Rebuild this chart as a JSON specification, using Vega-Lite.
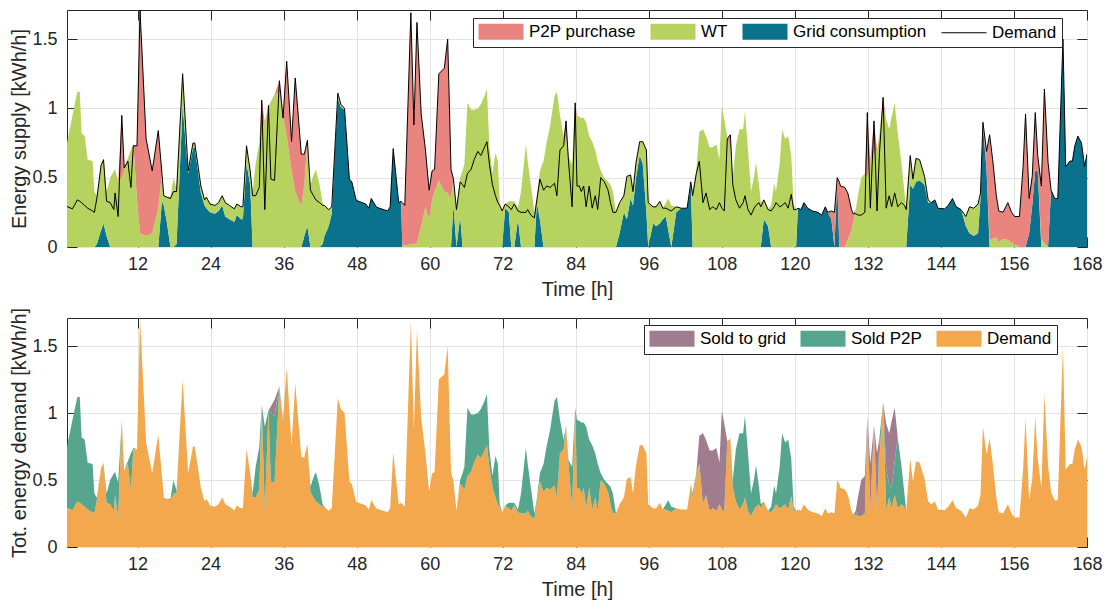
{
  "$schema": "https://vega.github.io/schema/vega-lite/v6.json",
  "background": "white",
  "padding": {"left": 9, "top": 9, "right": 19, "bottom": 5},
  "spacing": 6,
  "config": {
    "font": "Liberation Sans",
    "view": {"stroke": "#262626", "strokeWidth": 1},
    "axis": {
      "labelFont": "Liberation Sans",
      "labelFontSize": 18,
      "labelColor": "#262626",
      "titleFont": "Liberation Sans",
      "titleFontSize": 20,
      "titleFontWeight": "normal",
      "titleColor": "#262626",
      "domain": false,
      "tickColor": "#262626",
      "tickSize": -10,
      "tickWidth": 1,
      "labelPadding": 18,
      "labelFlush": false,
      "labelOverlap": false,
      "titlePadding": 6,
      "gridColor": "#e3e3e3",
      "gridWidth": 1
    },
    "axisY": {"titlePadding": 2},
    "legend": {
      "labelFont": "Liberation Sans",
      "labelFontSize": 17,
      "labelColor": "#000000",
      "orient": "none",
      "direction": "horizontal",
      "columns": 4,
      "fillColor": "white",
      "strokeColor": "#262626",
      "padding": 5,
      "labelOffset": 34,
      "columnPadding": 12,
      "symbolSize": 256,
      "symbolStrokeWidth": 1
    }
  },
  "resolve": {"scale": {"color": "independent"}, "legend": {"color": "independent"}},
  "data": {
    "values": [
      {"t":0,"demand":0.3,"grid":0,"wt":0.66,"p2p":0,"soldP2P":0.36,"soldGrid":0},
      {"t":1.3,"demand":0.275,"grid":0,"wt":0.95,"p2p":0,"soldP2P":0.675,"soldGrid":0},
      {"t":2.1,"demand":0.34,"grid":0,"wt":1.12,"p2p":0,"soldP2P":0.78,"soldGrid":0},
      {"t":2.5,"demand":0.33,"grid":0,"wt":1.12,"p2p":0,"soldP2P":0.79,"soldGrid":0},
      {"t":2.8,"demand":0.32,"grid":0,"wt":0.82,"p2p":0,"soldP2P":0.5,"soldGrid":0},
      {"t":3.3,"demand":0.3,"grid":0,"wt":0.8,"p2p":0,"soldP2P":0.5,"soldGrid":0},
      {"t":3.8,"demand":0.28,"grid":0,"wt":0.63,"p2p":0,"soldP2P":0.35,"soldGrid":0},
      {"t":4.6,"demand":0.26,"grid":0,"wt":0.62,"p2p":0,"soldP2P":0.36,"soldGrid":0},
      {"t":4.9,"demand":0.25,"grid":0,"wt":0.4,"p2p":0,"soldP2P":0.15,"soldGrid":0},
      {"t":5.3,"demand":0.35,"grid":0.02,"wt":0.35,"p2p":0,"soldP2P":0.02,"soldGrid":0},
      {"t":6.0,"demand":0.59,"grid":0.12,"wt":0.47,"p2p":0,"soldP2P":0,"soldGrid":0},
      {"t":6.4,"demand":0.63,"grid":0.17,"wt":0.46,"p2p":0,"soldP2P":0,"soldGrid":0},
      {"t":6.9,"demand":0.33,"grid":0.08,"wt":0.32,"p2p":0,"soldP2P":0.07,"soldGrid":0},
      {"t":7.5,"demand":0.32,"grid":0,"wt":0.5,"p2p":0,"soldP2P":0.18,"soldGrid":0},
      {"t":8.1,"demand":0.27,"grid":0,"wt":0.55,"p2p":0,"soldP2P":0.28,"soldGrid":0},
      {"t":8.3,"demand":0.39,"grid":0,"wt":0.56,"p2p":0,"soldP2P":0.17,"soldGrid":0},
      {"t":8.8,"demand":0.22,"grid":0,"wt":0.48,"p2p":0,"soldP2P":0.26,"soldGrid":0},
      {"t":9.4,"demand":0.95,"grid":0,"wt":0.5,"p2p":0.45,"soldP2P":0,"soldGrid":0},
      {"t":9.8,"demand":0.57,"grid":0,"wt":0.55,"p2p":0.02,"soldP2P":0,"soldGrid":0},
      {"t":10.4,"demand":0.62,"grid":0,"wt":0.64,"p2p":0,"soldP2P":0.02,"soldGrid":0},
      {"t":10.9,"demand":0.43,"grid":0,"wt":0.7,"p2p":0,"soldP2P":0.27,"soldGrid":0},
      {"t":11.3,"demand":0.73,"grid":0,"wt":0.74,"p2p":0,"soldP2P":0.01,"soldGrid":0},
      {"t":11.9,"demand":0.73,"grid":0,"wt":0.35,"p2p":0.38,"soldP2P":0,"soldGrid":0},
      {"t":12.4,"demand":1.71,"grid":0,"wt":0.1,"p2p":1.61,"soldP2P":0,"soldGrid":0},
      {"t":13.4,"demand":0.78,"grid":0,"wt":0.08,"p2p":0.7,"soldP2P":0,"soldGrid":0},
      {"t":14.4,"demand":0.55,"grid":0,"wt":0.1,"p2p":0.45,"soldP2P":0,"soldGrid":0},
      {"t":15.4,"demand":0.84,"grid":0,"wt":0.28,"p2p":0.56,"soldP2P":0,"soldGrid":0},
      {"t":16.0,"demand":0.53,"grid":0.33,"wt":0.2,"p2p":0,"soldP2P":0,"soldGrid":0},
      {"t":16.3,"demand":0.37,"grid":0.3,"wt":0.07,"p2p":0,"soldP2P":0,"soldGrid":0},
      {"t":16.8,"demand":0.36,"grid":0.18,"wt":0.18,"p2p":0,"soldP2P":0,"soldGrid":0},
      {"t":17.4,"demand":0.35,"grid":0,"wt":0.36,"p2p":0,"soldP2P":0.01,"soldGrid":0},
      {"t":17.9,"demand":0.4,"grid":0,"wt":0.5,"p2p":0,"soldP2P":0.1,"soldGrid":0},
      {"t":18.4,"demand":0.4,"grid":0.02,"wt":0.4,"p2p":0,"soldP2P":0.02,"soldGrid":0},
      {"t":19.4,"demand":1.25,"grid":1.02,"wt":0.23,"p2p":0,"soldP2P":0,"soldGrid":0},
      {"t":20.3,"demand":0.55,"grid":0.53,"wt":0.02,"p2p":0,"soldP2P":0,"soldGrid":0},
      {"t":21.1,"demand":0.75,"grid":0.71,"wt":0.04,"p2p":0,"soldP2P":0,"soldGrid":0},
      {"t":21.4,"demand":0.75,"grid":0.72,"wt":0.03,"p2p":0,"soldP2P":0,"soldGrid":0},
      {"t":22.4,"demand":0.44,"grid":0.39,"wt":0.05,"p2p":0,"soldP2P":0,"soldGrid":0},
      {"t":23.0,"demand":0.34,"grid":0.3,"wt":0.04,"p2p":0,"soldP2P":0,"soldGrid":0},
      {"t":23.3,"demand":0.36,"grid":0.28,"wt":0.08,"p2p":0,"soldP2P":0,"soldGrid":0},
      {"t":23.9,"demand":0.31,"grid":0.25,"wt":0.06,"p2p":0,"soldP2P":0,"soldGrid":0},
      {"t":24.7,"demand":0.3,"grid":0.24,"wt":0.06,"p2p":0,"soldP2P":0,"soldGrid":0},
      {"t":25.3,"demand":0.32,"grid":0.26,"wt":0.06,"p2p":0,"soldP2P":0,"soldGrid":0},
      {"t":25.9,"demand":0.37,"grid":0.3,"wt":0.07,"p2p":0,"soldP2P":0,"soldGrid":0},
      {"t":26.4,"demand":0.32,"grid":0.22,"wt":0.1,"p2p":0,"soldP2P":0,"soldGrid":0},
      {"t":27.1,"demand":0.3,"grid":0.2,"wt":0.1,"p2p":0,"soldP2P":0,"soldGrid":0},
      {"t":27.9,"demand":0.275,"grid":0.18,"wt":0.095,"p2p":0,"soldP2P":0,"soldGrid":0},
      {"t":28.3,"demand":0.31,"grid":0.23,"wt":0.08,"p2p":0,"soldP2P":0,"soldGrid":0},
      {"t":29.0,"demand":0.29,"grid":0.2,"wt":0.09,"p2p":0,"soldP2P":0,"soldGrid":0},
      {"t":29.3,"demand":0.29,"grid":0.2,"wt":0.09,"p2p":0,"soldP2P":0,"soldGrid":0},
      {"t":29.9,"demand":0.73,"grid":0.6,"wt":0.13,"p2p":0,"soldP2P":0,"soldGrid":0},
      {"t":30.5,"demand":0.55,"grid":0.45,"wt":0.1,"p2p":0,"soldP2P":0,"soldGrid":0},
      {"t":30.9,"demand":0.37,"grid":0,"wt":0.4,"p2p":0,"soldP2P":0.03,"soldGrid":0},
      {"t":31.4,"demand":0.37,"grid":0,"wt":0.6,"p2p":0,"soldP2P":0.23,"soldGrid":0},
      {"t":32.0,"demand":0.43,"grid":0,"wt":0.75,"p2p":0,"soldP2P":0.32,"soldGrid":0},
      {"t":32.4,"demand":1.06,"grid":0,"wt":0.85,"p2p":0.21,"soldP2P":0,"soldGrid":0},
      {"t":32.9,"demand":0.27,"grid":0,"wt":0.9,"p2p":0,"soldP2P":0.63,"soldGrid":0},
      {"t":33.5,"demand":1.02,"grid":0,"wt":1.0,"p2p":0.02,"soldP2P":0,"soldGrid":0},
      {"t":33.9,"demand":0.49,"grid":0,"wt":1.05,"p2p":0,"soldP2P":0.51,"soldGrid":0.05},
      {"t":34.5,"demand":0.48,"grid":0,"wt":1.1,"p2p":0,"soldP2P":0.5,"soldGrid":0.12},
      {"t":35.3,"demand":1.2,"grid":0,"wt":1.12,"p2p":0.08,"soldP2P":0,"soldGrid":0},
      {"t":35.9,"demand":0.93,"grid":0,"wt":0.95,"p2p":0,"soldP2P":0.02,"soldGrid":0},
      {"t":36.5,"demand":1.34,"grid":0,"wt":0.8,"p2p":0.54,"soldP2P":0,"soldGrid":0},
      {"t":37.3,"demand":0.76,"grid":0,"wt":0.55,"p2p":0.21,"soldP2P":0,"soldGrid":0},
      {"t":37.9,"demand":1.22,"grid":0,"wt":0.4,"p2p":0.82,"soldP2P":0,"soldGrid":0},
      {"t":38.9,"demand":0.67,"grid":0,"wt":0.29,"p2p":0.38,"soldP2P":0,"soldGrid":0},
      {"t":39.4,"demand":0.67,"grid":0.08,"wt":0.37,"p2p":0.22,"soldP2P":0,"soldGrid":0},
      {"t":39.9,"demand":0.77,"grid":0.15,"wt":0.62,"p2p":0,"soldP2P":0,"soldGrid":0},
      {"t":40.4,"demand":0.41,"grid":0,"wt":0.45,"p2p":0,"soldP2P":0.04,"soldGrid":0},
      {"t":40.9,"demand":0.37,"grid":0,"wt":0.52,"p2p":0,"soldP2P":0.15,"soldGrid":0},
      {"t":41.3,"demand":0.34,"grid":0,"wt":0.56,"p2p":0,"soldP2P":0.22,"soldGrid":0},
      {"t":41.9,"demand":0.32,"grid":0,"wt":0.45,"p2p":0,"soldP2P":0.13,"soldGrid":0},
      {"t":42.4,"demand":0.3,"grid":0.02,"wt":0.3,"p2p":0,"soldP2P":0.02,"soldGrid":0},
      {"t":42.7,"demand":0.3,"grid":0.08,"wt":0.22,"p2p":0,"soldP2P":0,"soldGrid":0},
      {"t":43.4,"demand":0.27,"grid":0.15,"wt":0.12,"p2p":0,"soldP2P":0,"soldGrid":0},
      {"t":43.9,"demand":0.29,"grid":0.24,"wt":0.05,"p2p":0,"soldP2P":0,"soldGrid":0},
      {"t":44.5,"demand":0.78,"grid":0.76,"wt":0.02,"p2p":0,"soldP2P":0,"soldGrid":0},
      {"t":44.9,"demand":1.11,"grid":1.07,"wt":0.04,"p2p":0,"soldP2P":0,"soldGrid":0},
      {"t":45.4,"demand":1.03,"grid":1.01,"wt":0.02,"p2p":0,"soldP2P":0,"soldGrid":0},
      {"t":46.0,"demand":1.0,"grid":0.99,"wt":0.01,"p2p":0,"soldP2P":0,"soldGrid":0},
      {"t":46.8,"demand":0.49,"grid":0.49,"wt":0,"p2p":0,"soldP2P":0,"soldGrid":0},
      {"t":47.2,"demand":0.47,"grid":0.47,"wt":0,"p2p":0,"soldP2P":0,"soldGrid":0},
      {"t":47.9,"demand":0.34,"grid":0.34,"wt":0,"p2p":0,"soldP2P":0,"soldGrid":0},
      {"t":48.3,"demand":0.33,"grid":0.33,"wt":0,"p2p":0,"soldP2P":0,"soldGrid":0},
      {"t":49.5,"demand":0.31,"grid":0.31,"wt":0,"p2p":0,"soldP2P":0,"soldGrid":0},
      {"t":50.0,"demand":0.28,"grid":0.28,"wt":0,"p2p":0,"soldP2P":0,"soldGrid":0},
      {"t":50.4,"demand":0.35,"grid":0.35,"wt":0,"p2p":0,"soldP2P":0,"soldGrid":0},
      {"t":51.2,"demand":0.29,"grid":0.29,"wt":0,"p2p":0,"soldP2P":0,"soldGrid":0},
      {"t":51.7,"demand":0.28,"grid":0.28,"wt":0,"p2p":0,"soldP2P":0,"soldGrid":0},
      {"t":53.1,"demand":0.26,"grid":0.26,"wt":0,"p2p":0,"soldP2P":0,"soldGrid":0},
      {"t":53.5,"demand":0.29,"grid":0.29,"wt":0,"p2p":0,"soldP2P":0,"soldGrid":0},
      {"t":54.0,"demand":0.71,"grid":0.71,"wt":0,"p2p":0,"soldP2P":0,"soldGrid":0},
      {"t":54.9,"demand":0.32,"grid":0.32,"wt":0,"p2p":0,"soldP2P":0,"soldGrid":0},
      {"t":55.3,"demand":0.33,"grid":0.33,"wt":0,"p2p":0,"soldP2P":0,"soldGrid":0},
      {"t":55.5,"demand":0.32,"grid":0,"wt":0.01,"p2p":0.31,"soldP2P":0,"soldGrid":0},
      {"t":55.9,"demand":0.3,"grid":0,"wt":0.01,"p2p":0.29,"soldP2P":0,"soldGrid":0},
      {"t":56.9,"demand":1.69,"grid":0,"wt":0.02,"p2p":1.67,"soldP2P":0,"soldGrid":0},
      {"t":57.4,"demand":0.88,"grid":0,"wt":0.02,"p2p":0.86,"soldP2P":0,"soldGrid":0},
      {"t":57.9,"demand":1.62,"grid":0,"wt":0.03,"p2p":1.59,"soldP2P":0,"soldGrid":0},
      {"t":58.6,"demand":0.96,"grid":0,"wt":0.15,"p2p":0.81,"soldP2P":0,"soldGrid":0},
      {"t":59.3,"demand":0.7,"grid":0,"wt":0.29,"p2p":0.41,"soldP2P":0,"soldGrid":0},
      {"t":59.9,"demand":0.41,"grid":0,"wt":0.2,"p2p":0.21,"soldP2P":0,"soldGrid":0},
      {"t":60.4,"demand":0.55,"grid":0,"wt":0.34,"p2p":0.21,"soldP2P":0,"soldGrid":0},
      {"t":60.8,"demand":0.56,"grid":0,"wt":0.4,"p2p":0.16,"soldP2P":0,"soldGrid":0},
      {"t":61.5,"demand":1.25,"grid":0,"wt":0.48,"p2p":0.77,"soldP2P":0,"soldGrid":0},
      {"t":62.4,"demand":1.29,"grid":0,"wt":0.4,"p2p":0.89,"soldP2P":0,"soldGrid":0},
      {"t":62.95,"demand":1.5,"grid":0,"wt":0.39,"p2p":1.11,"soldP2P":0,"soldGrid":0},
      {"t":63.5,"demand":0.56,"grid":0,"wt":0.35,"p2p":0.21,"soldP2P":0,"soldGrid":0},
      {"t":63.9,"demand":0.49,"grid":0.3,"wt":0.19,"p2p":0,"soldP2P":0,"soldGrid":0},
      {"t":64.4,"demand":0.27,"grid":0,"wt":0.27,"p2p":0,"soldP2P":0,"soldGrid":0},
      {"t":65.0,"demand":0.47,"grid":0.22,"wt":0.28,"p2p":0,"soldP2P":0.03,"soldGrid":0},
      {"t":65.4,"demand":0.45,"grid":0,"wt":0.55,"p2p":0,"soldP2P":0.1,"soldGrid":0},
      {"t":65.7,"demand":0.43,"grid":0,"wt":0.6,"p2p":0,"soldP2P":0.17,"soldGrid":0},
      {"t":66.2,"demand":0.53,"grid":0,"wt":1.04,"p2p":0,"soldP2P":0.51,"soldGrid":0},
      {"t":66.8,"demand":0.56,"grid":0,"wt":0.99,"p2p":0,"soldP2P":0.43,"soldGrid":0},
      {"t":67.3,"demand":0.63,"grid":0,"wt":0.99,"p2p":0,"soldP2P":0.36,"soldGrid":0},
      {"t":67.9,"demand":0.69,"grid":0,"wt":1.0,"p2p":0,"soldP2P":0.31,"soldGrid":0},
      {"t":68.4,"demand":0.66,"grid":0,"wt":1.03,"p2p":0,"soldP2P":0.37,"soldGrid":0},
      {"t":69.0,"demand":0.72,"grid":0,"wt":1.09,"p2p":0,"soldP2P":0.37,"soldGrid":0},
      {"t":69.4,"demand":0.76,"grid":0,"wt":1.14,"p2p":0,"soldP2P":0.38,"soldGrid":0},
      {"t":69.8,"demand":0.6,"grid":0,"wt":0.73,"p2p":0,"soldP2P":0.13,"soldGrid":0},
      {"t":70.3,"demand":0.45,"grid":0,"wt":0.53,"p2p":0,"soldP2P":0.08,"soldGrid":0},
      {"t":70.8,"demand":0.37,"grid":0,"wt":0.68,"p2p":0,"soldP2P":0.31,"soldGrid":0},
      {"t":71.2,"demand":0.32,"grid":0,"wt":0.62,"p2p":0,"soldP2P":0.3,"soldGrid":0},
      {"t":71.5,"demand":0.3,"grid":0,"wt":0.32,"p2p":0,"soldP2P":0.02,"soldGrid":0},
      {"t":71.9,"demand":0.26,"grid":0,"wt":0.26,"p2p":0,"soldP2P":0,"soldGrid":0},
      {"t":72.4,"demand":0.31,"grid":0.28,"wt":0.03,"p2p":0,"soldP2P":0,"soldGrid":0},
      {"t":73.0,"demand":0.29,"grid":0.25,"wt":0.08,"p2p":0,"soldP2P":0.04,"soldGrid":0},
      {"t":73.4,"demand":0.27,"grid":0,"wt":0.33,"p2p":0,"soldP2P":0.06,"soldGrid":0},
      {"t":73.9,"demand":0.31,"grid":0,"wt":0.33,"p2p":0,"soldP2P":0.02,"soldGrid":0},
      {"t":74.5,"demand":0.26,"grid":0.2,"wt":0.08,"p2p":0,"soldP2P":0.02,"soldGrid":0},
      {"t":75.0,"demand":0.25,"grid":0,"wt":0.4,"p2p":0,"soldP2P":0.15,"soldGrid":0},
      {"t":75.8,"demand":0.25,"grid":0,"wt":0.74,"p2p":0,"soldP2P":0.49,"soldGrid":0},
      {"t":76.1,"demand":0.27,"grid":0,"wt":0.62,"p2p":0,"soldP2P":0.35,"soldGrid":0},
      {"t":76.6,"demand":0.23,"grid":0,"wt":0.45,"p2p":0,"soldP2P":0.22,"soldGrid":0},
      {"t":77.2,"demand":0.21,"grid":0,"wt":0.25,"p2p":0,"soldP2P":0.04,"soldGrid":0},
      {"t":77.6,"demand":0.34,"grid":0.32,"wt":0.04,"p2p":0,"soldP2P":0.02,"soldGrid":0},
      {"t":78.1,"demand":0.49,"grid":0.2,"wt":0.35,"p2p":0,"soldP2P":0.06,"soldGrid":0},
      {"t":78.7,"demand":0.41,"grid":0,"wt":0.62,"p2p":0,"soldP2P":0.21,"soldGrid":0},
      {"t":79.2,"demand":0.44,"grid":0,"wt":0.75,"p2p":0,"soldP2P":0.31,"soldGrid":0},
      {"t":79.8,"demand":0.43,"grid":0,"wt":0.88,"p2p":0,"soldP2P":0.45,"soldGrid":0},
      {"t":80.5,"demand":0.46,"grid":0,"wt":1.09,"p2p":0,"soldP2P":0.63,"soldGrid":0},
      {"t":80.9,"demand":0.37,"grid":0,"wt":1.12,"p2p":0,"soldP2P":0.75,"soldGrid":0},
      {"t":81.4,"demand":0.7,"grid":0,"wt":0.95,"p2p":0,"soldP2P":0.25,"soldGrid":0},
      {"t":82.0,"demand":0.73,"grid":0,"wt":0.8,"p2p":0,"soldP2P":0.07,"soldGrid":0},
      {"t":82.4,"demand":0.91,"grid":0,"wt":0.78,"p2p":0.13,"soldP2P":0,"soldGrid":0},
      {"t":82.8,"demand":0.62,"grid":0,"wt":0.65,"p2p":0,"soldP2P":0.03,"soldGrid":0},
      {"t":83.4,"demand":0.29,"grid":0,"wt":0.6,"p2p":0,"soldP2P":0.31,"soldGrid":0},
      {"t":83.9,"demand":1.04,"grid":0,"wt":0.95,"p2p":0.09,"soldP2P":0,"soldGrid":0},
      {"t":84.2,"demand":0.44,"grid":0,"wt":0.95,"p2p":0,"soldP2P":0.51,"soldGrid":0},
      {"t":84.6,"demand":0.44,"grid":0,"wt":0.94,"p2p":0,"soldP2P":0.5,"soldGrid":0},
      {"t":84.9,"demand":0.4,"grid":0,"wt":0.93,"p2p":0,"soldP2P":0.53,"soldGrid":0},
      {"t":85.3,"demand":0.44,"grid":0,"wt":0.93,"p2p":0,"soldP2P":0.49,"soldGrid":0},
      {"t":85.7,"demand":0.29,"grid":0,"wt":0.9,"p2p":0,"soldP2P":0.61,"soldGrid":0},
      {"t":86.2,"demand":0.44,"grid":0,"wt":0.8,"p2p":0,"soldP2P":0.36,"soldGrid":0},
      {"t":86.7,"demand":0.28,"grid":0,"wt":0.76,"p2p":0,"soldP2P":0.48,"soldGrid":0},
      {"t":87.2,"demand":0.37,"grid":0,"wt":0.7,"p2p":0,"soldP2P":0.33,"soldGrid":0},
      {"t":87.6,"demand":0.27,"grid":0,"wt":0.62,"p2p":0,"soldP2P":0.35,"soldGrid":0},
      {"t":88.1,"demand":0.5,"grid":0,"wt":0.55,"p2p":0,"soldP2P":0.05,"soldGrid":0},
      {"t":88.7,"demand":0.47,"grid":0,"wt":0.5,"p2p":0,"soldP2P":0.03,"soldGrid":0},
      {"t":89.3,"demand":0.41,"grid":0,"wt":0.47,"p2p":0,"soldP2P":0.06,"soldGrid":0},
      {"t":89.7,"demand":0.32,"grid":0,"wt":0.45,"p2p":0,"soldP2P":0.13,"soldGrid":0},
      {"t":90.1,"demand":0.25,"grid":0,"wt":0.4,"p2p":0,"soldP2P":0.15,"soldGrid":0},
      {"t":90.6,"demand":0.25,"grid":0,"wt":0.25,"p2p":0,"soldP2P":0,"soldGrid":0},
      {"t":91.2,"demand":0.32,"grid":0.1,"wt":0.22,"p2p":0,"soldP2P":0,"soldGrid":0},
      {"t":91.9,"demand":0.37,"grid":0.25,"wt":0.12,"p2p":0,"soldP2P":0,"soldGrid":0},
      {"t":92.4,"demand":0.51,"grid":0.2,"wt":0.31,"p2p":0,"soldP2P":0,"soldGrid":0},
      {"t":93.0,"demand":0.52,"grid":0.35,"wt":0.17,"p2p":0,"soldP2P":0,"soldGrid":0},
      {"t":93.4,"demand":0.4,"grid":0.3,"wt":0.1,"p2p":0,"soldP2P":0,"soldGrid":0},
      {"t":93.9,"demand":0.61,"grid":0.5,"wt":0.11,"p2p":0,"soldP2P":0,"soldGrid":0},
      {"t":94.5,"demand":0.76,"grid":0.66,"wt":0.1,"p2p":0,"soldP2P":0,"soldGrid":0},
      {"t":95.0,"demand":0.76,"grid":0.6,"wt":0.16,"p2p":0,"soldP2P":0,"soldGrid":0},
      {"t":95.6,"demand":0.7,"grid":0.25,"wt":0.45,"p2p":0,"soldP2P":0,"soldGrid":0},
      {"t":95.9,"demand":0.32,"grid":0,"wt":0.32,"p2p":0,"soldP2P":0,"soldGrid":0},
      {"t":96.7,"demand":0.29,"grid":0.17,"wt":0.12,"p2p":0,"soldP2P":0,"soldGrid":0},
      {"t":97.2,"demand":0.29,"grid":0.15,"wt":0.14,"p2p":0,"soldP2P":0,"soldGrid":0},
      {"t":97.8,"demand":0.33,"grid":0.17,"wt":0.16,"p2p":0,"soldP2P":0,"soldGrid":0},
      {"t":98.3,"demand":0.28,"grid":0.2,"wt":0.08,"p2p":0,"soldP2P":0,"soldGrid":0},
      {"t":98.8,"demand":0.28,"grid":0.22,"wt":0.1,"p2p":0,"soldP2P":0.04,"soldGrid":0},
      {"t":99.2,"demand":0.27,"grid":0.12,"wt":0.23,"p2p":0,"soldP2P":0.08,"soldGrid":0},
      {"t":99.7,"demand":0.26,"grid":0,"wt":0.3,"p2p":0,"soldP2P":0.04,"soldGrid":0},
      {"t":100.5,"demand":0.29,"grid":0.25,"wt":0.04,"p2p":0,"soldP2P":0,"soldGrid":0},
      {"t":101.3,"demand":0.28,"grid":0.28,"wt":0,"p2p":0,"soldP2P":0,"soldGrid":0},
      {"t":102.3,"demand":0.28,"grid":0.28,"wt":0,"p2p":0,"soldP2P":0,"soldGrid":0},
      {"t":102.9,"demand":0.47,"grid":0.45,"wt":0,"p2p":0.02,"soldP2P":0,"soldGrid":0},
      {"t":103.2,"demand":0.37,"grid":0,"wt":0.4,"p2p":0,"soldP2P":0.03,"soldGrid":0},
      {"t":103.8,"demand":0.53,"grid":0,"wt":0.55,"p2p":0,"soldP2P":0.02,"soldGrid":0},
      {"t":104.3,"demand":0.62,"grid":0,"wt":0.83,"p2p":0,"soldP2P":0,"soldGrid":0.21},
      {"t":104.9,"demand":0.32,"grid":0,"wt":0.85,"p2p":0,"soldP2P":0,"soldGrid":0.53},
      {"t":105.4,"demand":0.39,"grid":0,"wt":0.8,"p2p":0,"soldP2P":0,"soldGrid":0.41},
      {"t":106.0,"demand":0.27,"grid":0,"wt":0.72,"p2p":0,"soldP2P":0,"soldGrid":0.45},
      {"t":106.5,"demand":0.29,"grid":0,"wt":0.72,"p2p":0,"soldP2P":0,"soldGrid":0.43},
      {"t":107.1,"demand":0.27,"grid":0,"wt":0.74,"p2p":0,"soldP2P":0,"soldGrid":0.47},
      {"t":107.6,"demand":0.32,"grid":0,"wt":0.63,"p2p":0,"soldP2P":0,"soldGrid":0.31},
      {"t":108.0,"demand":0.28,"grid":0,"wt":1.02,"p2p":0,"soldP2P":0,"soldGrid":0.74},
      {"t":108.4,"demand":0.26,"grid":0,"wt":0.92,"p2p":0,"soldP2P":0,"soldGrid":0.66},
      {"t":108.9,"demand":0.78,"grid":0,"wt":0.79,"p2p":0,"soldP2P":0.01,"soldGrid":0},
      {"t":109.4,"demand":0.81,"grid":0,"wt":0.7,"p2p":0.11,"soldP2P":0,"soldGrid":0},
      {"t":109.8,"demand":0.45,"grid":0,"wt":0.5,"p2p":0,"soldP2P":0.05,"soldGrid":0},
      {"t":110.3,"demand":0.34,"grid":0,"wt":0.73,"p2p":0,"soldP2P":0.39,"soldGrid":0},
      {"t":110.9,"demand":0.28,"grid":0,"wt":0.85,"p2p":0,"soldP2P":0.57,"soldGrid":0},
      {"t":111.5,"demand":0.32,"grid":0,"wt":0.85,"p2p":0,"soldP2P":0.53,"soldGrid":0},
      {"t":111.8,"demand":0.37,"grid":0,"wt":0.98,"p2p":0,"soldP2P":0.61,"soldGrid":0},
      {"t":112.3,"demand":0.27,"grid":0,"wt":0.7,"p2p":0,"soldP2P":0.43,"soldGrid":0},
      {"t":112.8,"demand":0.23,"grid":0,"wt":0.4,"p2p":0,"soldP2P":0.17,"soldGrid":0},
      {"t":113.3,"demand":0.28,"grid":0,"wt":0.51,"p2p":0,"soldP2P":0.23,"soldGrid":0},
      {"t":113.6,"demand":0.3,"grid":0,"wt":0.61,"p2p":0,"soldP2P":0.31,"soldGrid":0},
      {"t":114.1,"demand":0.32,"grid":0,"wt":0.45,"p2p":0,"soldP2P":0.13,"soldGrid":0},
      {"t":114.4,"demand":0.29,"grid":0,"wt":0.32,"p2p":0,"soldP2P":0.03,"soldGrid":0},
      {"t":114.9,"demand":0.34,"grid":0.2,"wt":0.14,"p2p":0,"soldP2P":0,"soldGrid":0},
      {"t":115.6,"demand":0.27,"grid":0.15,"wt":0.12,"p2p":0,"soldP2P":0,"soldGrid":0},
      {"t":116.1,"demand":0.26,"grid":0,"wt":0.3,"p2p":0,"soldP2P":0.04,"soldGrid":0},
      {"t":116.6,"demand":0.29,"grid":0,"wt":0.46,"p2p":0,"soldP2P":0.17,"soldGrid":0},
      {"t":116.9,"demand":0.32,"grid":0,"wt":0.4,"p2p":0,"soldP2P":0.08,"soldGrid":0},
      {"t":117.5,"demand":0.29,"grid":0,"wt":0.6,"p2p":0,"soldP2P":0.31,"soldGrid":0},
      {"t":117.9,"demand":0.3,"grid":0,"wt":0.85,"p2p":0,"soldP2P":0.55,"soldGrid":0},
      {"t":118.4,"demand":0.32,"grid":0,"wt":0.78,"p2p":0,"soldP2P":0.46,"soldGrid":0},
      {"t":118.9,"demand":0.28,"grid":0,"wt":0.8,"p2p":0,"soldP2P":0.52,"soldGrid":0},
      {"t":119.4,"demand":0.38,"grid":0,"wt":0.66,"p2p":0,"soldP2P":0.28,"soldGrid":0},
      {"t":119.8,"demand":0.27,"grid":0,"wt":0.3,"p2p":0,"soldP2P":0.03,"soldGrid":0},
      {"t":120.2,"demand":0.27,"grid":0,"wt":0.27,"p2p":0,"soldP2P":0,"soldGrid":0},
      {"t":120.5,"demand":0.28,"grid":0.28,"wt":0,"p2p":0,"soldP2P":0,"soldGrid":0},
      {"t":121.0,"demand":0.27,"grid":0.27,"wt":0,"p2p":0,"soldP2P":0,"soldGrid":0},
      {"t":121.5,"demand":0.32,"grid":0.32,"wt":0,"p2p":0,"soldP2P":0,"soldGrid":0},
      {"t":122.1,"demand":0.28,"grid":0.28,"wt":0,"p2p":0,"soldP2P":0,"soldGrid":0},
      {"t":122.9,"demand":0.26,"grid":0.26,"wt":0,"p2p":0,"soldP2P":0,"soldGrid":0},
      {"t":123.8,"demand":0.25,"grid":0.25,"wt":0,"p2p":0,"soldP2P":0,"soldGrid":0},
      {"t":124.4,"demand":0.23,"grid":0.23,"wt":0,"p2p":0,"soldP2P":0,"soldGrid":0},
      {"t":125.0,"demand":0.29,"grid":0.29,"wt":0,"p2p":0,"soldP2P":0,"soldGrid":0},
      {"t":125.4,"demand":0.25,"grid":0.25,"wt":0,"p2p":0,"soldP2P":0,"soldGrid":0},
      {"t":126.0,"demand":0.26,"grid":0.2,"wt":0,"p2p":0.06,"soldP2P":0,"soldGrid":0},
      {"t":126.5,"demand":0.25,"grid":0,"wt":0,"p2p":0.25,"soldP2P":0,"soldGrid":0},
      {"t":126.96,"demand":0.5,"grid":0.48,"wt":0,"p2p":0.02,"soldP2P":0,"soldGrid":0},
      {"t":127.3,"demand":0.47,"grid":0,"wt":0,"p2p":0.47,"soldP2P":0,"soldGrid":0},
      {"t":127.5,"demand":0.44,"grid":0,"wt":0,"p2p":0.44,"soldP2P":0,"soldGrid":0},
      {"t":128.2,"demand":0.43,"grid":0,"wt":0,"p2p":0.43,"soldP2P":0,"soldGrid":0},
      {"t":128.7,"demand":0.39,"grid":0,"wt":0.05,"p2p":0.34,"soldP2P":0,"soldGrid":0},
      {"t":129.3,"demand":0.27,"grid":0,"wt":0.12,"p2p":0.15,"soldP2P":0,"soldGrid":0},
      {"t":129.6,"demand":0.24,"grid":0,"wt":0.18,"p2p":0.06,"soldP2P":0,"soldGrid":0},
      {"t":130.0,"demand":0.24,"grid":0,"wt":0.27,"p2p":0,"soldP2P":0.03,"soldGrid":0},
      {"t":130.4,"demand":0.23,"grid":0,"wt":0.38,"p2p":0,"soldP2P":0,"soldGrid":0.15},
      {"t":130.9,"demand":0.23,"grid":0,"wt":0.5,"p2p":0,"soldP2P":0,"soldGrid":0.27},
      {"t":131.5,"demand":0.25,"grid":0,"wt":0.53,"p2p":0,"soldP2P":0,"soldGrid":0.28},
      {"t":131.9,"demand":0.97,"grid":0,"wt":0.5,"p2p":0.47,"soldP2P":0,"soldGrid":0},
      {"t":132.4,"demand":0.28,"grid":0,"wt":0.62,"p2p":0,"soldP2P":0,"soldGrid":0.34},
      {"t":133.0,"demand":0.91,"grid":0,"wt":0.68,"p2p":0.23,"soldP2P":0,"soldGrid":0},
      {"t":133.5,"demand":0.26,"grid":0,"wt":0.7,"p2p":0,"soldP2P":0,"soldGrid":0.44},
      {"t":133.9,"demand":0.68,"grid":0,"wt":0.82,"p2p":0,"soldP2P":0.14,"soldGrid":0},
      {"t":134.5,"demand":1.08,"grid":0,"wt":1.02,"p2p":0.06,"soldP2P":0,"soldGrid":0},
      {"t":135.0,"demand":0.28,"grid":0,"wt":0.92,"p2p":0,"soldP2P":0.3,"soldGrid":0.34},
      {"t":135.5,"demand":0.37,"grid":0,"wt":0.85,"p2p":0,"soldP2P":0.1,"soldGrid":0.38},
      {"t":135.9,"demand":0.29,"grid":0,"wt":0.94,"p2p":0,"soldP2P":0.15,"soldGrid":0.5},
      {"t":136.4,"demand":0.39,"grid":0,"wt":1.04,"p2p":0,"soldP2P":0.25,"soldGrid":0.4},
      {"t":136.9,"demand":0.29,"grid":0,"wt":0.82,"p2p":0,"soldP2P":0.53,"soldGrid":0},
      {"t":137.5,"demand":0.32,"grid":0,"wt":0.61,"p2p":0,"soldP2P":0.29,"soldGrid":0},
      {"t":138.0,"demand":0.3,"grid":0,"wt":0.4,"p2p":0,"soldP2P":0.1,"soldGrid":0},
      {"t":138.3,"demand":0.27,"grid":0,"wt":0.27,"p2p":0,"soldP2P":0,"soldGrid":0},
      {"t":138.95,"demand":0.66,"grid":0.45,"wt":0.21,"p2p":0,"soldP2P":0,"soldGrid":0},
      {"t":139.4,"demand":0.49,"grid":0.42,"wt":0.07,"p2p":0,"soldP2P":0,"soldGrid":0},
      {"t":139.9,"demand":0.64,"grid":0.47,"wt":0.17,"p2p":0,"soldP2P":0,"soldGrid":0},
      {"t":140.5,"demand":0.63,"grid":0.48,"wt":0.15,"p2p":0,"soldP2P":0,"soldGrid":0},
      {"t":141.3,"demand":0.51,"grid":0.45,"wt":0.06,"p2p":0,"soldP2P":0,"soldGrid":0},
      {"t":141.9,"demand":0.34,"grid":0.32,"wt":0.02,"p2p":0,"soldP2P":0,"soldGrid":0},
      {"t":142.4,"demand":0.32,"grid":0.32,"wt":0,"p2p":0,"soldP2P":0,"soldGrid":0},
      {"t":143.0,"demand":0.34,"grid":0.34,"wt":0,"p2p":0,"soldP2P":0,"soldGrid":0},
      {"t":143.5,"demand":0.28,"grid":0.28,"wt":0,"p2p":0,"soldP2P":0,"soldGrid":0},
      {"t":144.6,"demand":0.275,"grid":0.275,"wt":0,"p2p":0,"soldP2P":0,"soldGrid":0},
      {"t":145.2,"demand":0.3,"grid":0.3,"wt":0,"p2p":0,"soldP2P":0,"soldGrid":0},
      {"t":145.9,"demand":0.35,"grid":0.35,"wt":0,"p2p":0,"soldP2P":0,"soldGrid":0},
      {"t":146.5,"demand":0.29,"grid":0.29,"wt":0,"p2p":0,"soldP2P":0,"soldGrid":0},
      {"t":147.3,"demand":0.27,"grid":0.27,"wt":0,"p2p":0,"soldP2P":0,"soldGrid":0},
      {"t":148.1,"demand":0.22,"grid":0.15,"wt":0.07,"p2p":0,"soldP2P":0,"soldGrid":0},
      {"t":148.7,"demand":0.29,"grid":0.1,"wt":0.19,"p2p":0,"soldP2P":0,"soldGrid":0},
      {"t":149.4,"demand":0.28,"grid":0.08,"wt":0.2,"p2p":0,"soldP2P":0,"soldGrid":0},
      {"t":150.1,"demand":0.31,"grid":0.1,"wt":0.21,"p2p":0,"soldP2P":0,"soldGrid":0},
      {"t":150.5,"demand":0.39,"grid":0.35,"wt":0.04,"p2p":0,"soldP2P":0,"soldGrid":0},
      {"t":150.9,"demand":0.9,"grid":0.88,"wt":0.02,"p2p":0,"soldP2P":0,"soldGrid":0},
      {"t":151.5,"demand":0.69,"grid":0.55,"wt":0,"p2p":0.14,"soldP2P":0,"soldGrid":0},
      {"t":152.0,"demand":0.81,"grid":0,"wt":0.05,"p2p":0.76,"soldP2P":0,"soldGrid":0},
      {"t":152.5,"demand":0.63,"grid":0,"wt":0.06,"p2p":0.57,"soldP2P":0,"soldGrid":0},
      {"t":153.1,"demand":0.37,"grid":0,"wt":0.07,"p2p":0.3,"soldP2P":0,"soldGrid":0},
      {"t":153.5,"demand":0.26,"grid":0,"wt":0.03,"p2p":0.23,"soldP2P":0,"soldGrid":0},
      {"t":154.2,"demand":0.25,"grid":0,"wt":0.06,"p2p":0.19,"soldP2P":0,"soldGrid":0},
      {"t":155.0,"demand":0.32,"grid":0,"wt":0.05,"p2p":0.27,"soldP2P":0,"soldGrid":0},
      {"t":155.6,"demand":0.25,"grid":0,"wt":0.03,"p2p":0.22,"soldP2P":0,"soldGrid":0},
      {"t":156.1,"demand":0.22,"grid":0,"wt":0.02,"p2p":0.2,"soldP2P":0,"soldGrid":0},
      {"t":156.9,"demand":0.22,"grid":0,"wt":0,"p2p":0.22,"soldP2P":0,"soldGrid":0},
      {"t":157.5,"demand":0.58,"grid":0,"wt":0,"p2p":0.58,"soldP2P":0,"soldGrid":0},
      {"t":157.9,"demand":0.96,"grid":0,"wt":0,"p2p":0.96,"soldP2P":0,"soldGrid":0},
      {"t":158.5,"demand":0.35,"grid":0.1,"wt":0,"p2p":0.25,"soldP2P":0,"soldGrid":0},
      {"t":159.0,"demand":0.51,"grid":0.3,"wt":0,"p2p":0.21,"soldP2P":0,"soldGrid":0},
      {"t":159.5,"demand":0.97,"grid":0.55,"wt":0,"p2p":0.42,"soldP2P":0,"soldGrid":0},
      {"t":159.9,"demand":0.66,"grid":0.55,"wt":0,"p2p":0.11,"soldP2P":0,"soldGrid":0},
      {"t":160.5,"demand":0.44,"grid":0,"wt":0.05,"p2p":0.39,"soldP2P":0,"soldGrid":0},
      {"t":161.0,"demand":1.14,"grid":0,"wt":0.03,"p2p":1.11,"soldP2P":0,"soldGrid":0},
      {"t":161.6,"demand":0.61,"grid":0,"wt":0,"p2p":0.61,"soldP2P":0,"soldGrid":0},
      {"t":162.1,"demand":0.41,"grid":0.41,"wt":0,"p2p":0,"soldP2P":0,"soldGrid":0},
      {"t":162.7,"demand":0.35,"grid":0.35,"wt":0,"p2p":0,"soldP2P":0,"soldGrid":0},
      {"t":163.2,"demand":0.35,"grid":0.35,"wt":0,"p2p":0,"soldP2P":0,"soldGrid":0},
      {"t":164.05,"demand":1.5,"grid":1.5,"wt":0,"p2p":0,"soldP2P":0,"soldGrid":0},
      {"t":164.5,"demand":0.58,"grid":0.58,"wt":0,"p2p":0,"soldP2P":0,"soldGrid":0},
      {"t":165.2,"demand":0.62,"grid":0.62,"wt":0,"p2p":0,"soldP2P":0,"soldGrid":0},
      {"t":165.6,"demand":0.62,"grid":0.62,"wt":0,"p2p":0,"soldP2P":0,"soldGrid":0},
      {"t":166.0,"demand":0.73,"grid":0.73,"wt":0,"p2p":0,"soldP2P":0,"soldGrid":0},
      {"t":166.5,"demand":0.8,"grid":0.8,"wt":0,"p2p":0,"soldP2P":0,"soldGrid":0},
      {"t":167.1,"demand":0.75,"grid":0.75,"wt":0,"p2p":0,"soldP2P":0,"soldGrid":0},
      {"t":167.6,"demand":0.58,"grid":0.58,"wt":0,"p2p":0,"soldP2P":0,"soldGrid":0},
      {"t":168.0,"demand":0.67,"grid":0.67,"wt":0,"p2p":0,"soldP2P":0,"soldGrid":0}
    ]
  },
  "vconcat": [
    {
      "width": 1020,
      "height": 237,
      "resolve": {"axis": {"x": "independent", "y": "independent"}},
      "layer": [
        {
          "transform": [
            {"fold": ["grid", "wt", "p2p"], "as": ["source", "kwh"]},
            {"lookup": "source", "from": {"data": {"values": [{"source": "grid", "rank": 1}, {"source": "wt", "rank": 2}, {"source": "p2p", "rank": 3}]}, "key": "source", "fields": ["rank"]}}
          ],
          "mark": {"type": "area", "clip": true},
          "encoding": {
            "x": {"field": "t", "type": "quantitative", "scale": {"domain": [0.4, 168], "nice": false, "zero": false},
                  "axis": {"values": [12, 24, 36, 48, 60, 72, 84, 96, 108, 120, 132, 144, 156, 168], "title": "Time [h]"}},
            "y": {"field": "kwh", "type": "quantitative", "stack": "zero", "scale": {"domain": [0, 1.71], "nice": false},
                  "axis": {"values": [0, 0.5, 1, 1.5], "format": "~g", "title": "Energy supply [kWh/h]", "labelPadding": 20}},
            "color": {
              "field": "source", "type": "nominal",
              "scale": {"domain": ["p2p", "wt", "grid", "demandLine"], "range": ["#E9847E", "#B6D25F", "#0A728C", "#000000"]},
              "legend": {
                "title": null, "legendX": 406, "legendY": 8,
                "labelExpr": "datum.label === 'p2p' ? 'P2P purchase' : datum.label === 'wt' ? 'WT' : datum.label === 'grid' ? 'Grid consumption' : 'Demand'",
                "encode": {"symbols": {"update": {
                  "shape": {"signal": "datum.value === 'demandLine' ? 'M-1,0H4.625' : 'M-1,-1H4.625V1H-1Z'"},
                  "fill": {"signal": "datum.value === 'p2p' ? '#E9847E' : datum.value === 'wt' ? '#B6D25F' : datum.value === 'grid' ? '#0A728C' : 'transparent'"},
                  "stroke": {"signal": "datum.value === 'demandLine' ? '#000000' : 'transparent'"},
                  "strokeWidth": {"value": 1}
                }}}
              }
            },
            "order": {"field": "rank", "type": "quantitative", "sort": "ascending"}
          }
        },
        {
          "mark": {"type": "line", "color": "#000000", "strokeWidth": 1, "clip": true},
          "encoding": {
            "x": {"field": "t", "type": "quantitative", "scale": {"domain": [0.4, 168], "nice": false, "zero": false},
                  "axis": {"orient": "top", "values": [12, 24, 36, 48, 60, 72, 84, 96, 108, 120, 132, 144, 156, 168], "labels": false, "grid": false, "title": null}},
            "y": {"field": "demand", "type": "quantitative", "scale": {"domain": [0, 1.71], "nice": false},
                  "axis": {"orient": "right", "values": [0, 0.5, 1, 1.5], "labels": false, "grid": false, "title": null}}
          }
        }
      ]
    },
    {
      "width": 1020,
      "height": 229,
      "resolve": {"axis": {"x": "independent", "y": "independent"}},
      "layer": [
        {
          "transform": [
            {"fold": ["demand", "soldP2P", "soldGrid"], "as": ["use", "kwh"]},
            {"lookup": "use", "from": {"data": {"values": [{"use": "demand", "rank": 1}, {"use": "soldP2P", "rank": 2}, {"use": "soldGrid", "rank": 3}]}, "key": "use", "fields": ["rank"]}}
          ],
          "mark": {"type": "area", "clip": true},
          "encoding": {
            "x": {"field": "t", "type": "quantitative", "scale": {"domain": [0.4, 168], "nice": false, "zero": false},
                  "axis": {"values": [12, 24, 36, 48, 60, 72, 84, 96, 108, 120, 132, 144, 156, 168], "title": "Time [h]"}},
            "y": {"field": "kwh", "type": "quantitative", "stack": "zero", "scale": {"domain": [0, 1.71], "nice": false},
                  "axis": {"values": [0, 0.5, 1, 1.5], "format": "~g", "title": "Tot. energy demand [kWh/h]", "labelPadding": 20}},
            "color": {
              "field": "use", "type": "nominal",
              "scale": {"domain": ["soldGrid", "soldP2P", "demand"], "range": ["#A07D8E", "#56A68E", "#F3A84D"]},
              "legend": {
                "title": null, "legendX": 577, "legendY": 7, "columns": 3,
                "labelExpr": "datum.label === 'soldGrid' ? 'Sold to grid' : datum.label === 'soldP2P' ? 'Sold P2P' : 'Demand'",
                "encode": {"symbols": {"update": {
                  "shape": {"value": "M-1,-1H4.625V1H-1Z"},
                  "fill": {"signal": "datum.value === 'soldGrid' ? '#A07D8E' : datum.value === 'soldP2P' ? '#56A68E' : '#F3A84D'"},
                  "stroke": {"value": "transparent"}
                }}}
              }
            },
            "order": {"field": "rank", "type": "quantitative", "sort": "ascending"}
          }
        },
        {
          "mark": {"type": "line", "strokeOpacity": 0, "clip": true},
          "encoding": {
            "x": {"field": "t", "type": "quantitative", "scale": {"domain": [0.4, 168], "nice": false, "zero": false},
                  "axis": {"orient": "top", "values": [12, 24, 36, 48, 60, 72, 84, 96, 108, 120, 132, 144, 156, 168], "labels": false, "grid": false, "title": null}},
            "y": {"field": "demand", "type": "quantitative", "scale": {"domain": [0, 1.71], "nice": false},
                  "axis": {"orient": "right", "values": [0, 0.5, 1, 1.5], "labels": false, "grid": false, "title": null}}
          }
        }
      ]
    }
  ]
}
